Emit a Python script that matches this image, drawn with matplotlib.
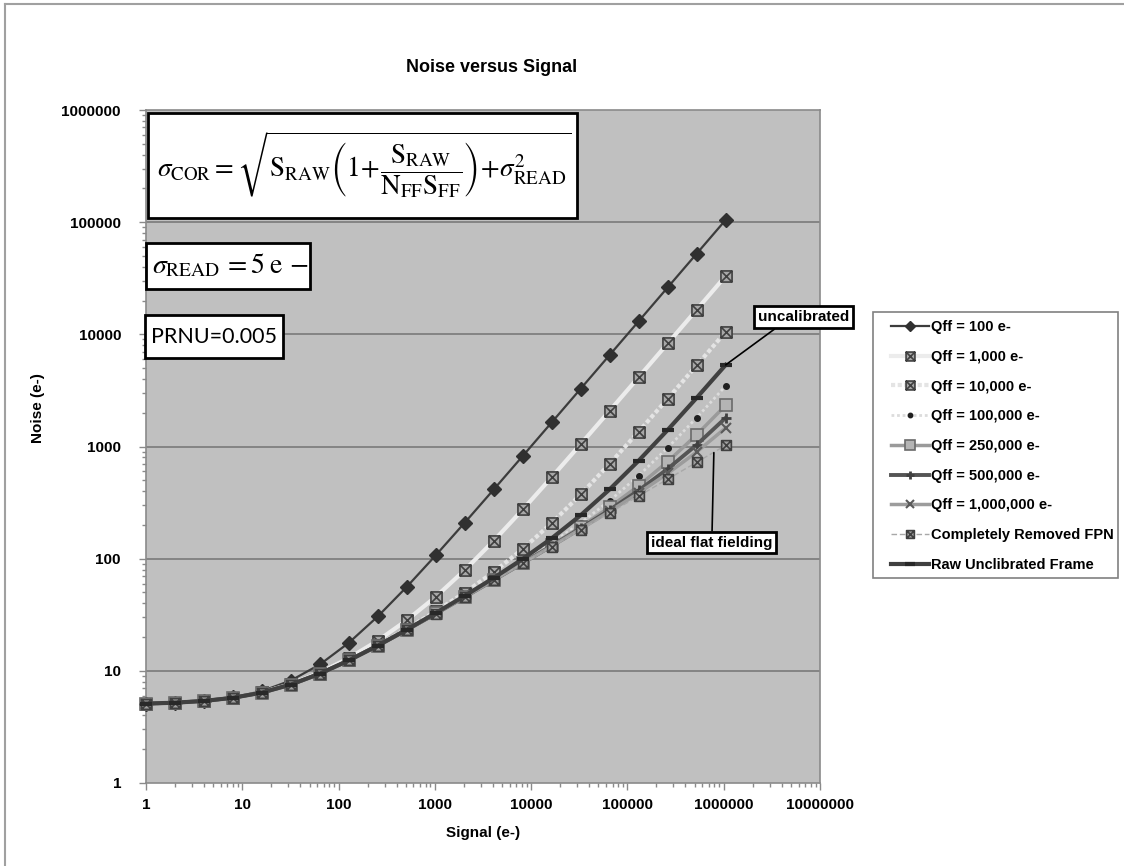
import matplotlib
matplotlib.use("Agg")
import matplotlib.pyplot as plt
from matplotlib.path import Path
from matplotlib.patches import Rectangle
from matplotlib.ticker import FixedLocator, FuncFormatter, LogLocator, NullFormatter
from matplotlib.lines import Line2D

# ---------------- data ----------------
signal = [1, 2, 4, 8, 16, 32, 64, 128, 256, 512, 1024, 2048, 4096, 8192, 16384,
          32768, 65536, 131072, 262144, 524288, 1048576]

qff_100 = [5.10, 5.20, 5.40, 5.80, 6.60, 8.20, 11.4, 17.8, 30.6, 56.2, 107.4, 209.8,
           414.6, 824.2, 1643.4, 3281.8, 6558.6, 13112.2, 26219.4, 52433.8, 104862.6]
qff_1000 = [5.10, 5.20, 5.39, 5.75, 6.42, 7.62, 9.65, 13.0, 18.6, 28.3, 45.8, 79.2,
            144.6, 274.5, 533.7, 1051.9, 2088.2, 4160.6, 8305.5, 16595.2, 33174.7]
qff_10000 = [5.10, 5.20, 5.39, 5.75, 6.41, 7.56, 9.46, 12.4, 17.0, 23.7, 34.0, 49.9,
             76.2, 122.2, 208.0, 374.4, 703.6, 1359.8, 2671.0, 5292.7, 10535.6]
qff_100000 = [5.10, 5.20, 5.39, 5.75, 6.40, 7.55, 9.44, 12.4, 16.8, 23.2, 32.6, 46.0,
              65.5, 94.3, 138.2, 208.6, 329.4, 550.4, 974.4, 1809.2, 3470.4]
qff_250000 = [5.10, 5.20, 5.39, 5.75, 6.40, 7.55, 9.44, 12.4, 16.8, 23.2, 32.5, 45.7,
              64.7, 92.1, 132.2, 192.6, 287.7, 447.0, 732.8, 1274.3, 2333.8]
qff_500000 = [5.10, 5.20, 5.39, 5.75, 6.40, 7.55, 9.43, 12.4, 16.8, 23.2, 32.4, 45.6,
              64.5, 91.4, 130.2, 186.9, 272.3, 406.8, 632.2, 1036.4, 1802.1]
qff_1000000 = [5.10, 5.20, 5.39, 5.75, 6.40, 7.55, 9.43, 12.4, 16.8, 23.2, 32.4, 45.6,
               64.3, 91.0, 129.1, 184.0, 264.3, 385.1, 575.2, 894.0, 1465.6]
fpn_removed = [5.10, 5.20, 5.39, 5.75, 6.40, 7.55, 9.43, 12.4, 16.8, 23.2, 32.4, 45.5,
               64.2, 90.6, 128.1, 181.1, 256.1, 362.1, 512.0, 724.1, 1024.0]
raw_uncal = [5.10, 5.20, 5.39, 5.75, 6.40, 7.55, 9.44, 12.4, 16.8, 23.3, 32.8, 46.7,
             67.4, 99.5, 152.1, 244.2, 415.9, 748.7, 1407.2, 2719.6, 5342.0]

labels = ["Qff = 100 e-", "Qff = 1,000 e-", "Qff = 10,000 e-", "Qff = 100,000 e-",
          "Qff = 250,000 e-", "Qff = 500,000 e-", "Qff = 1,000,000 e-",
          "Completely Removed FPN", "Raw Unclibrated Frame"]
series = [qff_100, qff_1000, qff_10000, qff_100000, qff_250000, qff_500000,
          qff_1000000, fpn_removed, raw_uncal]

x_ticks = [1, 10, 100, 1000, 10000, 100000, 1000000, 10000000]
y_ticks = [1, 10, 100, 1000, 10000, 100000, 1000000]

# ---------------- style ----------------
plt.rcParams['font.family'] = ['Liberation Sans', 'DejaVu Sans']
plt.rcParams['mathtext.fontset'] = 'stix'

bx_verts = [(-1, -1), (1, -1), (1, 1), (-1, 1), (-1, -1),
            (-1, -1), (1, 1), (-1, 1), (1, -1)]
bx_codes = [Path.MOVETO, Path.LINETO, Path.LINETO, Path.LINETO, Path.CLOSEPOLY,
            Path.MOVETO, Path.LINETO, Path.MOVETO, Path.LINETO]
boxx = Path(bx_verts, bx_codes)

styles = [
    dict(color='#3c3c3c', lw=1.6, ls='-', marker='D', ms=7, mfc='#303030', mec='#303030', mew=1),
    dict(color='#ececec', lw=3.0, ls='-', marker=boxx, ms=8, mfc='#a8a8a8', mec='#404040', mew=1.2),
    dict(color='#e4e4e4', lw=3.0, ls=(0, (1, 0.6)), marker=boxx, ms=8, mfc='#a8a8a8', mec='#404040', mew=1.2),
    dict(color='#dcdcdc', lw=2.0, ls=(0, (1, 1)), marker='o', ms=4, mfc='#202020', mec='#202020', mew=1),
    dict(color='#9a9a9a', lw=2.5, ls='-', marker='s', ms=9, mfc='#b4b4b4', mec='#6a6a6a', mew=1.2),
    dict(color='#555555', lw=2.8, ls='-', marker='+', ms=7, mfc='#404040', mec='#404040', mew=2),
    dict(color='#9c9c9c', lw=2.5, ls='-', marker='x', ms=7, mfc='#5a5a5a', mec='#5a5a5a', mew=1.5),
    dict(color='#a8a8a8', lw=1.0, ls=(0, (4, 2)), marker=boxx, ms=7, mfc='#a0a0a0', mec='#404040', mew=1.2),
    dict(color='#404040', lw=3.0, ls='-', marker='_', ms=9, mfc='#282828', mec='#282828', mew=3),
]

W, H = 1124, 866
fig = plt.figure(figsize=(W / 100, H / 100), dpi=100)
fig.patch.set_facecolor('white')


def fx(px):
    return px / W


def fy(py):
    return 1 - py / H


L, R, T, B = 146, 820, 110, 783
ax = fig.add_axes([fx(L), fy(B), (R - L) / W, (B - T) / H])
ax.set_facecolor('#c0c0c0')
ax.set_xscale('log')
ax.set_yscale('log')
ax.set_xlim(1, 1e7)
ax.set_ylim(1, 1e6)

for y in y_ticks[1:-1]:
    ax.axhline(y, color='#7a7a7a', lw=1.2, zorder=1)

handles = []
for vals, lab, st in zip(series, labels, styles):
    h, = ax.plot(signal, vals, label=lab, clip_on=False, zorder=3, **st)
    handles.append(h)

for sp in ax.spines.values():
    sp.set_color('#8a8a8a')
    sp.set_linewidth(1.2)

fmt = FuncFormatter(lambda v, p: f"{int(round(v))}")
ax.xaxis.set_major_locator(FixedLocator(x_ticks))
ax.yaxis.set_major_locator(FixedLocator(y_ticks))
ax.xaxis.set_major_formatter(fmt)
ax.yaxis.set_major_formatter(fmt)
ax.xaxis.set_minor_locator(LogLocator(base=10, subs=range(2, 10), numticks=20))
ax.yaxis.set_minor_locator(LogLocator(base=10, subs=range(2, 10), numticks=20))
ax.xaxis.set_minor_formatter(NullFormatter())
ax.yaxis.set_minor_formatter(NullFormatter())
ax.tick_params(which='major', direction='out', length=5, color='#8a8a8a', width=1,
               labelsize=11)
ax.tick_params(axis='y', which='major', pad=13)
ax.tick_params(axis='x', which='major', pad=6)
ax.tick_params(which='minor', direction='out', length=3, color='#8a8a8a', width=1)
for t in ax.get_xticklabels() + ax.get_yticklabels():
    t.set_fontweight('bold')

ax.set_xlabel("Signal (e-)", fontsize=11, fontweight='bold')
ax.set_ylabel("Noise (e-)", fontsize=11, fontweight='bold')
ax.xaxis.set_label_coords((483 - L) / (R - L), -(833 - B) / (B - T))
ax.yaxis.set_label_coords(-(146 - 38) / (R - L), (B - 408) / (B - T))
ax.xaxis.label.set_va('center')
ax.yaxis.label.set_va('center')

fig.text(fx(492), fy(68), "Noise versus Signal", ha='center', va='center',
         fontsize=13, fontweight='bold')


def box(x0, y0, x1, y1, ec='black', lw=2, z=5):
    fig.add_artist(Rectangle((fx(x0), fy(y1)), (x1 - x0) / W, (y1 - y0) / H,
                             transform=fig.transFigure, fc='white', ec=ec,
                             lw=lw, zorder=z))


# formula boxes
box(148, 113, 577, 218)
fig.text(fx(157), fy(165),
         r'$\sigma_{\rm COR}=\sqrt{{\rm S}_{\rm RAW}\left(1\!+\!\dfrac{{\rm S}_{\rm RAW}}{{\rm N}_{\rm FF}{\rm S}_{\rm FF}}\right)\!+\!\sigma^{2}_{\rm READ}}$',
         fontsize=19.5, ha='left', va='center', zorder=6)
box(146, 243, 310, 289)
fig.text(fx(152), fy(266), r'$\sigma_{\rm READ}\,=5\;{\rm e}\,-$', fontsize=20,
         ha='left', va='center', zorder=6)
box(145, 315, 283, 358)
fig.text(fx(214), fy(337), "PRNU=0.005", fontsize=15.5, family='Lato',
         ha='center', va='center', zorder=6)

# annotations
ann_box = dict(boxstyle='square,pad=0.25', fc='white', ec='black', lw=2)
ax.annotate("uncalibrated", xy=(1048576, 5342), xytext=(6.8e6, 14190), textcoords='data',
            fontsize=11, fontweight='bold', ha='center', va='center', bbox=ann_box,
            annotation_clip=False, zorder=6,
            arrowprops=dict(arrowstyle='-', color='black', lw=1.2, relpos=(0.25, 0),
                            shrinkA=0, shrinkB=0))
ax.annotate("ideal flat fielding", xy=(7.9e5, 880), xytext=(7.55e5, 139), textcoords='data',
            fontsize=11, fontweight='bold', ha='center', va='center', bbox=ann_box,
            annotation_clip=False, zorder=6,
            arrowprops=dict(arrowstyle='-', color='black', lw=1.2, relpos=(0.5, 1),
                            shrinkA=0, shrinkB=0))

# legend: frame drawn separately, entries placed inside
box(873, 312, 1118, 578, ec='#808080', lw=1.2, z=4)
leg = fig.legend(handles=handles, loc='upper left', bbox_to_anchor=(fx(891), fy(320)),
                 bbox_transform=fig.transFigure, frameon=False,
                 prop=dict(size=10.5, weight='bold'), labelspacing=1.08,
                 handlelength=2.6, handletextpad=0.15, borderpad=0.0, borderaxespad=0,
                 markerscale=0.8)
leg.set_zorder(6)

# outer chart frame (top & left edges)
fig.add_artist(Line2D([fx(5), 1], [fy(4), fy(4)], transform=fig.transFigure,
                      color='#a0a0a0', lw=1.5))
fig.add_artist(Line2D([fx(5), fx(5)], [0, fy(4)], transform=fig.transFigure,
                      color='#a0a0a0', lw=1.5))

fig.savefig("out.png", dpi=100)
